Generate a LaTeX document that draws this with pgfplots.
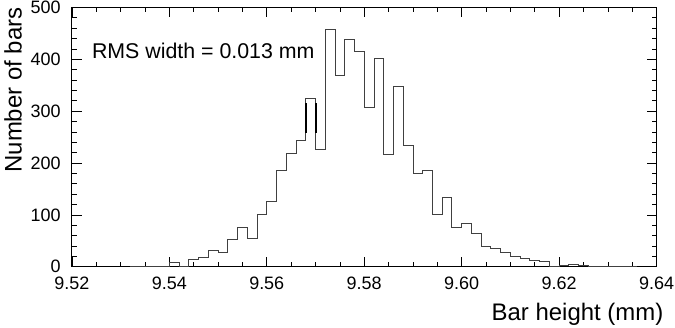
\documentclass[border=0pt]{standalone}
\usepackage{fontspec}
\setmainfont{Liberation Sans}
\usepackage{pgfplots}
\pgfplotsset{compat=1.18}

\begin{document}
\begin{tikzpicture}
\begin{axis}[
    width=586pt, height=260pt, scale only axis,
    xmin=9.52, xmax=9.64, ymin=0, ymax=500,
    xtick={9.52,9.54,...,9.641}, ytick={0,100,...,500},
    minor x tick num=3, minor y tick num=4,
    tick align=inside, major tick length=10pt, minor tick length=5pt,
    tick style={black, line width=0.6pt},
    axis line style={black, line width=0.8pt},
    /pgf/number format/assume math mode=true,
    xticklabel style={/pgf/number format/.cd, fixed, fixed zerofill, precision=2},
    yticklabel style={/pgf/number format/.cd, fixed},
    ticklabel style={font=\fontsize{18}{20}\selectfont, inner sep=1pt},
    xticklabel shift=9pt, yticklabel shift=10pt,
    scaled ticks=false,
    xlabel={Bar height (mm)},
    ylabel={Number of bars},
    label style={font=\fontsize{24}{28}\selectfont},
    xlabel style={at={(axis description cs:1,0)}, anchor=base east, inner sep=0pt, yshift=-54pt, xshift=7pt},
    ylabel style={at={(axis description cs:-0.085,1.0)}, anchor=south east, inner sep=0pt},
    clip=false,
]
\addplot[const plot, color=black!75, line width=0.8pt] coordinates {
    (9.532,0) (9.534,0) (9.536,0) (9.538,0)
    (9.540,8) (9.542,0) (9.544,15) (9.546,19) (9.548,31)
    (9.550,28) (9.552,53) (9.554,76) (9.556,55) (9.558,101)
    (9.560,126) (9.562,185) (9.564,219) (9.566,243) (9.568,324)
    (9.570,226) (9.572,457) (9.574,369) (9.576,438) (9.578,415)
    (9.580,308) (9.582,402) (9.584,217) (9.586,347) (9.588,233)
    (9.590,180) (9.592,185) (9.594,100) (9.596,134) (9.598,76)
    (9.600,83) (9.602,65) (9.604,39) (9.606,36) (9.608,28)
    (9.610,20) (9.612,17) (9.614,13) (9.616,11) (9.618,0)
    (9.620,2) (9.622,4) (9.624,3) (9.626,0) (9.628,0)
    (9.630,0) (9.632,0) (9.634,0) (9.636,0)
};
\addplot[black, line width=2.2pt] coordinates {(9.5681,258) (9.5681,316)};
\addplot[black, line width=2.2pt] coordinates {(9.5701,258) (9.5701,316)};
\node[anchor=west, inner sep=0pt, font=\fontsize{21.4}{24}\selectfont] at (axis cs:9.5241,417) {RMS width = 0.013 mm};
\path (rel axis cs:-0.1229,-0.2346) rectangle (rel axis cs:1.029,1.0269);
\end{axis}
\end{tikzpicture}
\end{document}
